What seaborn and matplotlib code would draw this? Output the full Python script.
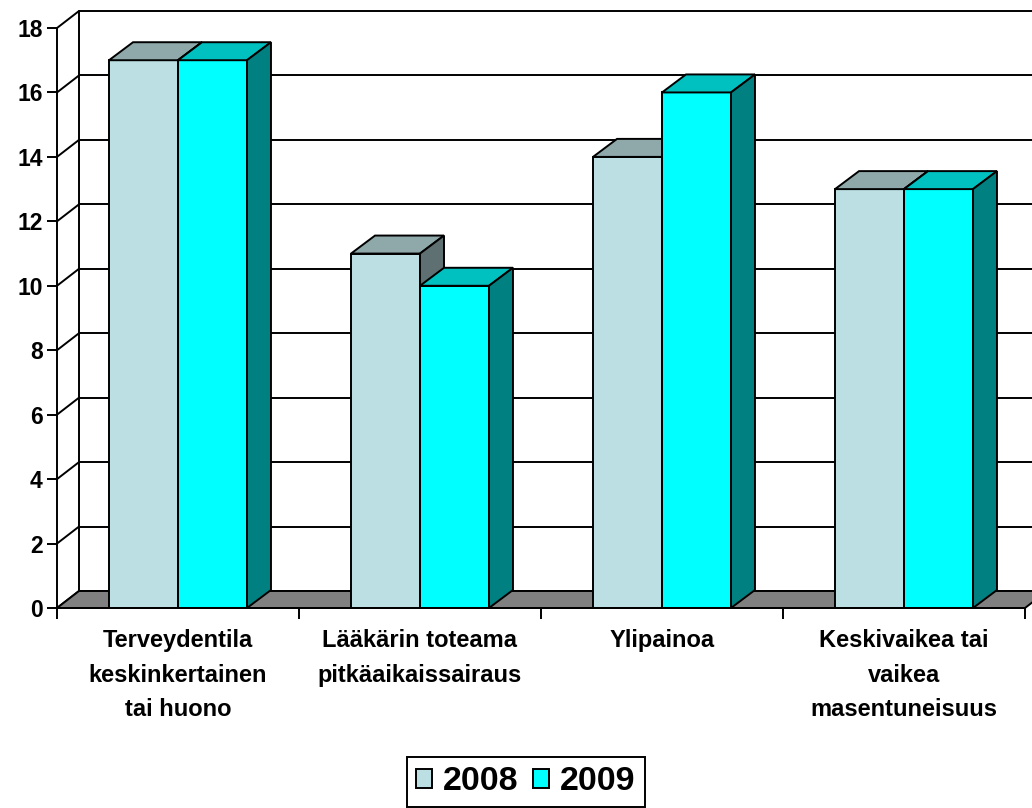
import matplotlib
matplotlib.use("Agg")
import matplotlib.pyplot as plt
import seaborn as sns
import pandas as pd
from matplotlib.patches import Polygon, Patch

# ---- data ----
categories = [
    "Terveydentila\nkeskinkertainen\ntai huono",
    "Lääkärin toteama\npitkäaikaissairaus",
    "Ylipainoa",
    "Keskivaikea tai\nvaikea\nmasentuneisuus",
]
years = ["2008", "2009"]
values_2008 = [17, 11, 14, 13]
values_2009 = [17, 10, 16, 13]
y_ticks = [0, 2, 4, 6, 8, 10, 12, 14, 16, 18]

front_colors = {"2008": "#BBDFE2", "2009": "#00FFFF"}
top_colors = {"2008": "#8FA9AA", "2009": "#00C0C0"}
side_colors = {"2008": "#5F7072", "2009": "#008080"}

df = pd.DataFrame({
    "category": categories * 2,
    "year": [years[0]] * len(categories) + [years[1]] * len(categories),
    "value": values_2008 + values_2009,
})

sns.set_theme(style="white")
plt.rcParams["font.family"] = ["Liberation Sans", "DejaVu Sans"]
plt.rcParams["font.weight"] = "bold"
plt.rcParams["text.color"] = "black"
plt.rcParams["xtick.color"] = "black"
plt.rcParams["ytick.color"] = "black"
plt.rcParams["axes.labelcolor"] = "black"

W, H = 1032, 808
fig = plt.figure(figsize=(W / 100, H / 100), dpi=100)
ax = fig.add_axes([57 / W, 200 / H, 968 / W, 580 / H])
ax.set_facecolor("none")

LW = 1.4
sns.barplot(data=df, x="category", y="value", hue="year", palette=front_colors,
            order=categories, hue_order=years, width=0.57, gap=0, saturation=1,
            edgecolor="black", linewidth=LW, legend=False, ax=ax, zorder=3)

ax.set_xlim(-0.5, 3.5)
ax.set_ylim(0, 18)

ux = 4.0 / 968
uy = 18.0 / 580
WX, WY = 22 * ux, 17 * uy
BX, BY = 24 * ux, 18 * uy

x0w, x1w = -0.5, 3.5
# floor
ax.add_patch(Polygon([(x0w, 0), (x0w + WX, WY), (x1w + WX, WY), (x1w, 0)],
                     closed=True, facecolor="#808080", edgecolor="black",
                     linewidth=LW, clip_on=False, zorder=1))
# back wall grid + left wall diagonals
for v in y_ticks:
    ax.plot([x0w + WX, x1w + WX], [v + WY, v + WY], color="black", lw=LW,
            clip_on=False, zorder=0.5, solid_capstyle="butt")
    ax.plot([x0w, x0w + WX], [v, v + WY], color="black", lw=LW,
            clip_on=False, zorder=0.5)
ax.plot([x0w + WX, x0w + WX], [WY, 18 + WY], color="black", lw=LW,
        clip_on=False, zorder=0.5)
ax.plot([x1w + WX, x1w + WX], [WY, 18 + WY], color="black", lw=LW,
        clip_on=False, zorder=0.5)

# 3D bar tops and sides
for h, (yr, cont) in enumerate(zip(years, ax.containers)):
    for rect in cont:
        x0 = rect.get_x()
        w = rect.get_width()
        hgt = rect.get_height()
        z = 3 + h
        rect.set_zorder(z)
        ax.add_patch(Polygon([(x0, hgt), (x0 + BX, hgt + BY), (x0 + w + BX, hgt + BY), (x0 + w, hgt)],
                             closed=True, facecolor=top_colors[yr], edgecolor="black",
                             linewidth=LW, zorder=z, clip_on=False))
        ax.add_patch(Polygon([(x0 + w, 0), (x0 + w + BX, BY), (x0 + w + BX, hgt + BY), (x0 + w, hgt)],
                             closed=True, facecolor=side_colors[yr], edgecolor="black",
                             linewidth=LW, zorder=z, clip_on=False))

# axes styling
for s in ["top", "right"]:
    ax.spines[s].set_visible(False)
for s in ["left", "bottom"]:
    ax.spines[s].set_color("black")
    ax.spines[s].set_linewidth(LW)
    ax.spines[s].set_zorder(6)

ax.set_yticks(y_ticks)
ax.set_yticklabels([str(t) for t in y_ticks], fontsize=16.5, fontweight="bold")
ax.tick_params(axis="y", which="major", direction="out", length=7.2, width=LW,
               pad=3.0, colors="black", left=True)

ax.set_xticks(range(len(categories)))
ax.set_xticklabels(categories, fontsize=17, fontweight="bold", linespacing=1.65)
ax.set_xticks([-0.5, 0.5, 1.5, 2.5, 3.5], minor=True)
ax.tick_params(axis="x", which="major", length=0, pad=15, colors="black")
ax.tick_params(axis="x", which="minor", direction="out", length=8, width=LW,
               colors="black", bottom=True)
ax.set_xlabel("")
ax.set_ylabel("")

handles = [Patch(facecolor=front_colors[y], edgecolor="black", linewidth=LW) for y in years]
leg = fig.legend(handles, years, loc="lower center", bbox_to_anchor=(526 / W, 1 / H),
                 ncol=2, frameon=True, fancybox=False, framealpha=1, edgecolor="black",
                 prop={"weight": "bold", "size": 24.5}, handlelength=0.47, handleheight=0.47,
                 columnspacing=0.42, handletextpad=0.32, borderpad=0.28, borderaxespad=0)
leg.get_frame().set_linewidth(LW)

fig.savefig("out.png", dpi=100)
